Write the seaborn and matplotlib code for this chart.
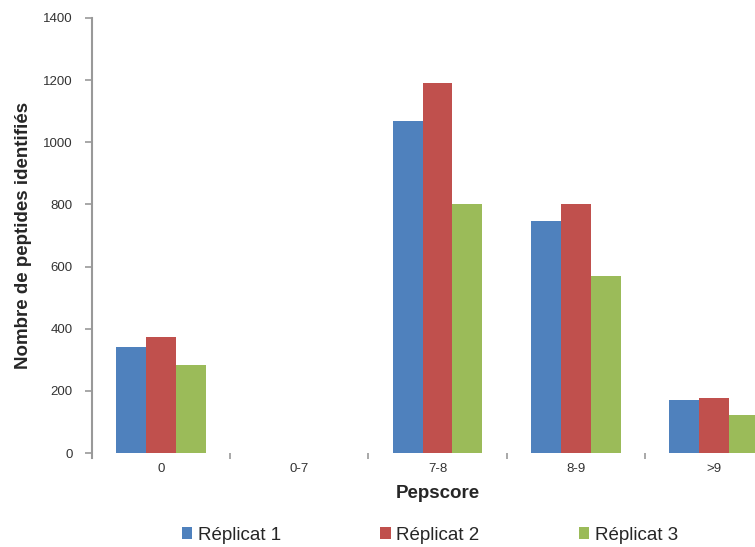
import numpy as np
import pandas as pd
import seaborn as sns
import matplotlib.pyplot as plt

# data
categories = ["0", "0-7", "7-8", "8-9", ">9"]
replicat_1 = [342, 0, 1068, 748, 171]
replicat_2 = [374, 0, 1190, 800, 177]
replicat_3 = [284, 0, 800, 571, 123]
series = ["Réplicat 1", "Réplicat 2", "Réplicat 3"]
colors = ["#4F81BD", "#C0504D", "#9BBB59"]

df = pd.DataFrame({
    "Pepscore": categories * 3,
    "value": replicat_1 + replicat_2 + replicat_3,
    "serie": [s for s in series for _ in categories],
})

sns.set_style("white")
plt.rcParams['font.family'] = ['Liberation Sans', 'DejaVu Sans']

fig = plt.figure(figsize=(7.55, 5.47), dpi=100)
ax = fig.add_axes([92 / 755, 94 / 547, 691 / 755, 435 / 547])

sns.barplot(data=df, x="Pepscore", y="value", hue="serie", order=categories,
            hue_order=series, palette=colors, width=0.65, gap=0,
            saturation=1, linewidth=0, ax=ax, legend=True)

ax.set_ylim(0, 1400)
ax.set_yticks(range(0, 1401, 200))
ax.set_xlim(-0.5, 4.5)
ax.set_xlabel("Pepscore", fontsize=13.5, fontweight="bold", labelpad=7)
ax.set_ylabel("Nombre de peptides identifiés", fontsize=13.5, fontweight="bold", labelpad=8)

for s in ["top", "right", "bottom"]:
    ax.spines[s].set_visible(False)
ax.spines["left"].set_color("#999999")
ax.spines["left"].set_linewidth(1.5)
ax.spines["left"].set_bounds(-15, 1400)

ax.tick_params(axis="y", left=True, length=5, width=1.2, color="#999999",
               labelsize=9.5, labelcolor="#333333", pad=9)
ax.tick_params(axis="x", bottom=False, labelsize=9.5, labelcolor="#333333", pad=4)
ax.set_xticks(np.arange(0.5, 4.5, 1), minor=True)
ax.tick_params(axis="x", which="minor", bottom=True, length=4, width=1.2, color="#999999")

handles, labels = ax.get_legend_handles_labels()
ax.legend(handles, labels, loc="center left", bbox_to_anchor=(165 / 755, 12 / 547),
          bbox_transform=fig.transFigure, ncol=3, frameon=False, fontsize=13.5,
          handlelength=0.55, handleheight=0.55, handletextpad=0.3, columnspacing=5.3)

fig.savefig("out.png", dpi=100)
